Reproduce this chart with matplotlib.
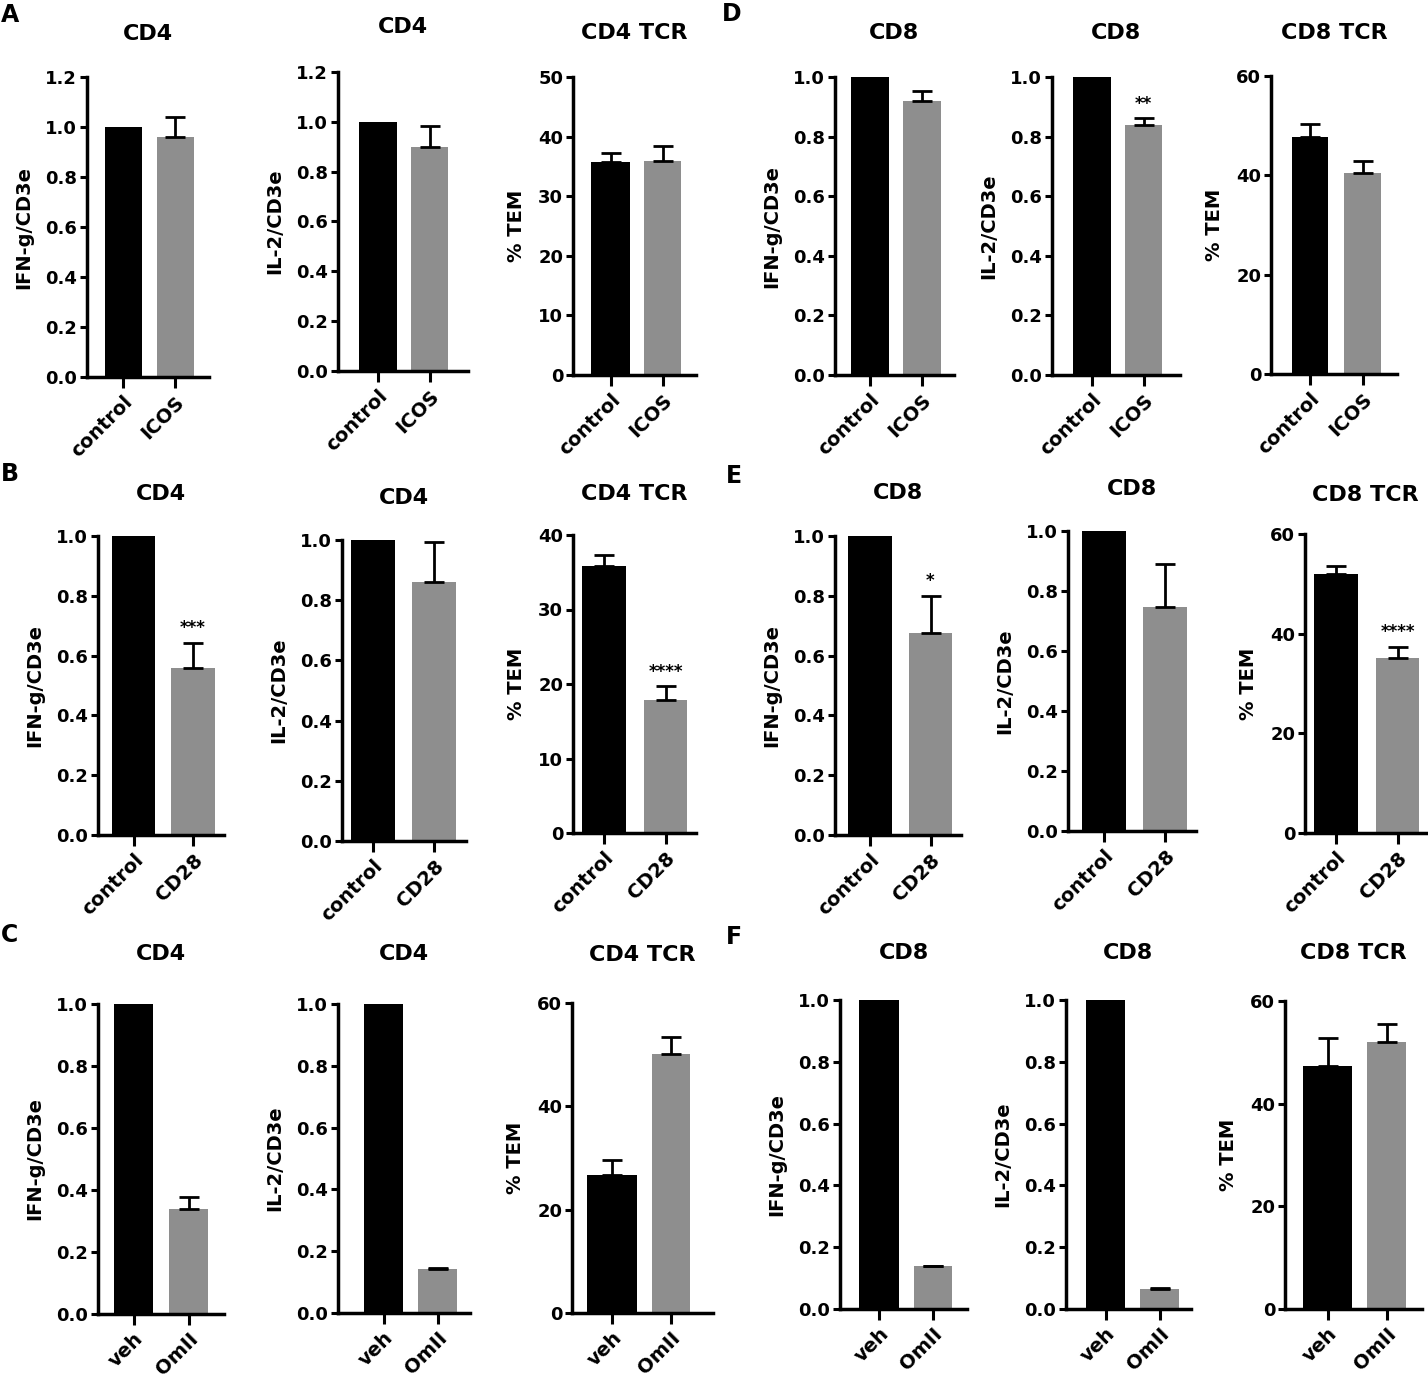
import matplotlib
matplotlib.use("Agg")
import matplotlib.pyplot as plt

plt.rcParams['font.family'] = ['DejaVu Sans']
plt.rcParams['font.weight'] = 'bold'

W, H = 1428, 1378

# ---- data ----
titles = ["CD4", "CD4", "CD4 TCR", "CD8", "CD8", "CD8 TCR",
          "CD4", "CD4", "CD4 TCR", "CD8", "CD8", "CD8 TCR",
          "CD4", "CD4", "CD4 TCR", "CD8", "CD8", "CD8 TCR"]
ylabels = ["IFN-g/CD3e", "IL-2/CD3e", "% TEM"] * 6
groups_icos = ["control", "ICOS"]
groups_cd28 = ["control", "CD28"]
groups_omii = ["veh", "OmII"]
groups = [groups_icos] * 6 + [groups_cd28] * 6 + [groups_omii] * 6

ctrl_vals = [1.0, 1.0, 35.7, 1.0, 1.0, 47.8,
             1.0, 1.0, 35.8, 1.0, 1.0, 51.9,
             1.0, 1.0, 26.7, 1.0, 1.0, 47.4]
ctrl_err = [0.0, 0.0, 1.6, 0.0, 0.0, 2.5,
            0.0, 0.0, 1.5, 0.0, 0.0, 1.7,
            0.0, 0.0, 3.0, 0.0, 0.0, 5.3]
trt_vals = [0.96, 0.90, 35.95, 0.92, 0.84, 40.4,
            0.56, 0.86, 17.8, 0.674, 0.747, 35.1,
            0.339, 0.143, 50.2, 0.138, 0.065, 52.1]
trt_err = [0.08, 0.085, 2.4, 0.034, 0.022, 2.4,
           0.083, 0.135, 1.9, 0.126, 0.143, 2.3,
           0.037, 0.003, 3.2, 0.002, 0.002, 3.4]
stars = ["", "", "", "", "**", "",
         "***", "", "****", "*", "", "****",
         "", "", "", "", "", ""]
ymax = [1.2, 1.2, 50, 1.0, 1.0, 60,
        1.0, 1.0, 40, 1.0, 1.0, 60,
        1.0, 1.0, 60, 1.0, 1.0, 60]
ystep = [0.2, 0.2, 10, 0.2, 0.2, 20,
         0.2, 0.2, 10, 0.2, 0.2, 20,
         0.2, 0.2, 20, 0.2, 0.2, 20]

panel_letters = ["A", "D", "B", "E", "C", "F"]

# ---- layout in pixels ----
# x axis start, x axis end, ctrl bar centre, treated bar centre,
# ctrl bar width, treated bar width
xlay = [
    (87, 209, 123, 175, 37, 37), (338, 468, 378, 429.5, 38, 37), (573, 696, 610.5, 662.5, 39, 37),
    (835, 954, 870, 922, 38, 38), (1052, 1180, 1092, 1143.5, 38, 37), (1271, 1397, 1310, 1362.5, 36, 37),
    (98, 224, 133.5, 193, 43, 44), (342, 466, 373, 434, 44, 44), (573, 696, 604, 665.5, 44, 43),
    (835, 961, 870, 930.5, 44, 43), (1068, 1196, 1104, 1165, 44, 44), (1305, 1426, 1336, 1397.5, 44, 43),
    (98, 224, 133.5, 188.5, 39, 39), (338, 470, 383.5, 437.5, 39, 39), (572, 713, 612, 671, 50, 38),
    (840, 967, 879, 933, 40, 38), (1066, 1191, 1105.5, 1159.5, 39, 39), (1285, 1422, 1327.5, 1386.5, 49, 39),
]
# zero y, top-tick y, title y
ylay = [
    (377, 77, 34), (371, 72, 27), (375, 77, 33),
    (375, 77, 33), (375, 77, 33), (374, 76, 33),
    (835, 536, 494), (841, 540, 498), (833, 535, 494),
    (835, 536, 493), (831, 531, 489), (833, 534, 495),
    (1314, 1004, 954), (1313, 1004, 954), (1313, 1003, 955),
    (1309, 1000, 953), (1309, 1000, 953), (1309, 1001, 953),
]
letter_pos = [(10, 15), (732, 14), (10, 474), (734, 476), (10, 935), (734, 937)]

fig = plt.figure(figsize=(W / 100, H / 100), dpi=100)

for i in range(18):
    x0, x1, c0, c1, w0, w1 = xlay[i]
    yb, yt, ty = ylay[i]
    d = c1 - c0
    ax = fig.add_axes([x0 / W, 1 - yb / H, (x1 - x0) / W, (yb - yt) / H])
    ax.bar([0, 1], [ctrl_vals[i], trt_vals[i]], width=[w0 / d, w1 / d],
           color=['black', '#8e8e8e'], zorder=2)
    for xi, v, e in [(0, ctrl_vals[i], ctrl_err[i]), (1, trt_vals[i], trt_err[i])]:
        if e > 0:
            ax.errorbar(xi, v, yerr=[[0], [e]], fmt='none', ecolor='black',
                        elinewidth=2, capsize=7, capthick=2, zorder=3)
    if stars[i]:
        ax.annotate(stars[i], (1, trt_vals[i] + trt_err[i]), xytext=(0, 4),
                    textcoords='offset points', ha='center', va='bottom',
                    fontsize=12, fontweight='bold')
    ax.set_xlim((x0 - c0) / d, 1 + (x1 - c1) / d)
    ax.set_ylim(0, ymax[i])
    n = int(round(ymax[i] / ystep[i]))
    ticks = [k * ystep[i] for k in range(n + 1)]
    ax.set_yticks(ticks)
    if ystep[i] < 1:
        ax.set_yticklabels([f"{t:.1f}" for t in ticks])
    else:
        ax.set_yticklabels([f"{t:.0f}" for t in ticks])
    ax.set_xticks([0, 1])
    ax.set_xticklabels(groups[i], rotation=45, ha='right', rotation_mode='anchor',
                       fontsize=14)
    ax.set_ylabel(ylabels[i], fontsize=14, fontweight='bold', labelpad=9)
    for s in ['top', 'right']:
        ax.spines[s].set_visible(False)
    for s in ['left', 'bottom']:
        ax.spines[s].set_linewidth(2.5)
    ax.tick_params(axis='y', width=2.2, length=5, labelsize=13, pad=2)
    ax.tick_params(axis='x', width=2.2, length=8, pad=3)
    for lab in ax.get_xticklabels() + ax.get_yticklabels():
        lab.set_fontweight('bold')
    fig.text((x0 + x1) / 2 / W, 1 - ty / H, titles[i], ha='center', va='center',
             fontsize=16, fontweight='bold')

for letter, (lx, ly) in zip(panel_letters, letter_pos):
    fig.text(lx / W, 1 - ly / H, letter, ha='center', va='center',
             fontsize=17, fontweight='bold')

fig.savefig("out.png", dpi=100, facecolor='white')
